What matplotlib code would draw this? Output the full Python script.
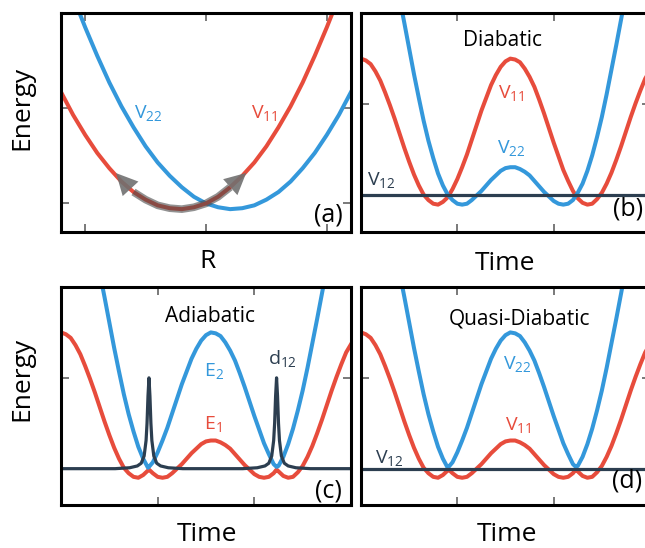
import matplotlib
matplotlib.use("Agg")
import matplotlib.pyplot as plt

plt.rcParams["font.family"] = ["Open Sans", "DejaVu Sans"]
plt.rcParams["mathtext.fontset"] = "custom"
plt.rcParams["mathtext.rm"] = "Open Sans"

RED = "#E74C3C"
BLUE = "#3498DB"
NAVY = "#2C3E50"
W, H = 645, 548

# -----------------------------
# (a) diabatic potentials vs R
# -----------------------------
r_grid = [-1.2, -1.1, -1.0, -0.9, -0.8, -0.7, -0.6, -0.5, -0.4, -0.3, -0.2, -0.1,
          0.0, 0.1, 0.2, 0.3, 0.4, 0.5, 0.6, 0.7, 0.8, 0.9, 1.0, 1.1, 1.2]
v11_r = [1.17, 0.93, 0.72, 0.53, 0.37, 0.23, 0.12, 0.04, -0.02, -0.05, -0.06, -0.04,
         0.00, 0.07, 0.17, 0.29, 0.43, 0.60, 0.80, 1.02, 1.27, 1.55, 1.85, 2.17, 2.52]
v22_r = [2.52, 2.17, 1.85, 1.55, 1.27, 1.02, 0.80, 0.60, 0.43, 0.29, 0.17, 0.07,
         0.00, -0.04, -0.06, -0.05, -0.02, 0.04, 0.12, 0.23, 0.37, 0.53, 0.72, 0.93, 1.17]

# -----------------------------
# (b)-(d) energies along the trajectory
# -----------------------------
t_grid = [0.00, 0.05, 0.10, 0.15, 0.20, 0.25, 0.30, 0.35, 0.40, 0.45, 0.50, 0.55,
          0.60, 0.65, 0.70, 0.75, 0.80, 0.85, 0.90, 0.95, 1.00, 1.05, 1.10, 1.15,
          1.20, 1.25, 1.30, 1.35, 1.40, 1.45, 1.50, 1.55, 1.60, 1.65, 1.70, 1.75,
          1.80, 1.85, 1.90, 1.95, 2.00, 2.05, 2.10, 2.15, 2.20, 2.25, 2.30, 2.35,
          2.40, 2.45, 2.50, 2.55, 2.60, 2.65, 2.70, 2.75, 2.80, 2.85, 2.90, 2.95, 3.00]
v11_t = [1.50, 1.48, 1.44, 1.36, 1.26, 1.13, 0.99, 0.84, 0.68, 0.52, 0.37, 0.23,
         0.11, 0.01, -0.05, -0.09, -0.10, -0.07, -0.02, 0.07, 0.18, 0.31, 0.45, 0.61,
         0.77, 0.93, 1.07, 1.21, 1.32, 1.41, 1.47, 1.50, 1.49, 1.46, 1.39, 1.30,
         1.19, 1.05, 0.90, 0.74, 0.58, 0.43, 0.28, 0.16, 0.05, -0.03, -0.08, -0.10,
         -0.09, -0.04, 0.03, 0.13, 0.25, 0.39, 0.54, 0.70, 0.86, 1.01, 1.15, 1.28, 1.37]
v22_t = [3.46, 3.44, 3.37, 3.25, 3.10, 2.90, 2.68, 2.43, 2.16, 1.89, 1.61, 1.33,
         1.07, 0.82, 0.60, 0.41, 0.24, 0.11, 0.01, -0.05, -0.09, -0.10, -0.09, -0.05,
         0.00, 0.05, 0.11, 0.17, 0.22, 0.27, 0.30, 0.31, 0.31, 0.29, 0.26, 0.22,
         0.16, 0.10, 0.04, -0.01, -0.06, -0.09, -0.10, -0.09, -0.05, 0.03, 0.13, 0.27,
         0.44, 0.64, 0.86, 1.11, 1.38, 1.65, 1.93, 2.21, 2.47, 2.72, 2.94, 3.12, 3.27]
v12_level = 0.0

# adiabatic states (with the two crossing times added)
t_adia = [0.00, 0.05, 0.10, 0.15, 0.20, 0.25, 0.30, 0.35, 0.40, 0.45, 0.50, 0.55,
          0.60, 0.65, 0.70, 0.75, 0.80, 0.85, 0.90, 0.91, 0.95, 1.00, 1.05, 1.10,
          1.15, 1.20, 1.25, 1.30, 1.35, 1.40, 1.45, 1.50, 1.55, 1.60, 1.65, 1.70,
          1.75, 1.80, 1.85, 1.90, 1.95, 2.00, 2.05, 2.10, 2.15, 2.20, 2.23, 2.25,
          2.30, 2.35, 2.40, 2.45, 2.50, 2.55, 2.60, 2.65, 2.70, 2.75, 2.80, 2.85,
          2.90, 2.95, 3.00]
e1 = [1.50, 1.48, 1.44, 1.36, 1.26, 1.13, 0.99, 0.84, 0.68, 0.52, 0.37, 0.23,
      0.11, 0.01, -0.05, -0.09, -0.10, -0.07, -0.02, -0.01, -0.05, -0.09, -0.10, -0.09,
      -0.05, 0.00, 0.05, 0.11, 0.17, 0.22, 0.27, 0.30, 0.31, 0.31, 0.29, 0.26,
      0.22, 0.16, 0.10, 0.04, -0.01, -0.06, -0.09, -0.10, -0.09, -0.05, -0.01, -0.03,
      -0.08, -0.10, -0.09, -0.04, 0.03, 0.13, 0.25, 0.39, 0.54, 0.70, 0.86, 1.01,
      1.15, 1.28, 1.37]
e2 = [3.46, 3.44, 3.37, 3.25, 3.10, 2.90, 2.68, 2.43, 2.16, 1.89, 1.61, 1.33,
      1.07, 0.82, 0.60, 0.41, 0.24, 0.11, 0.01, 0.02, 0.07, 0.18, 0.31, 0.45,
      0.61, 0.77, 0.93, 1.07, 1.21, 1.32, 1.41, 1.47, 1.50, 1.49, 1.46, 1.39,
      1.30, 1.19, 1.05, 0.90, 0.74, 0.58, 0.43, 0.28, 0.16, 0.05, 0.02, 0.03,
      0.13, 0.27, 0.44, 0.64, 0.86, 1.11, 1.38, 1.65, 1.93, 2.21, 2.47, 2.72,
      2.94, 3.12, 3.27]

# nonadiabatic coupling d12
t_d12 = [0.00, 0.56, 0.71, 0.79, 0.83, 0.86, 0.88, 0.89, 0.90, 0.91, 0.92, 0.93,
         0.94, 0.96, 0.99, 1.03, 1.11, 1.26, 1.88, 2.03, 2.11, 2.15, 2.18, 2.20,
         2.21, 2.22, 2.23, 2.24, 2.25, 2.26, 2.28, 2.31, 2.35, 2.43, 2.58, 3.00]
d12 = [0.00, 0.00, 0.01, 0.03, 0.06, 0.14, 0.31, 0.50, 0.80, 1.00, 0.80, 0.50,
       0.31, 0.14, 0.06, 0.03, 0.01, 0.00, 0.00, 0.01, 0.03, 0.06, 0.14, 0.31,
       0.50, 0.80, 1.00, 0.80, 0.50, 0.31, 0.14, 0.06, 0.03, 0.01, 0.00, 0.00]


def px_axes(left, top, right, bottom):
    return fig.add_axes([left / W, 1 - bottom / H, (right - left) / W, (bottom - top) / H])


def style(ax, xticks, yticks):
    for s in ax.spines.values():
        s.set_linewidth(2.2)
        s.set_color("black")
    ax.set_xticks(xticks)
    ax.set_yticks(yticks)
    ax.tick_params(direction="in", length=6, width=1.1, color="#555555",
                   top=True, right=True, labelbottom=False, labelleft=False)


def ftext(x, y, s, **kw):
    fig.text(x / W, 1 - y / H, s, **kw)


fig = plt.figure(figsize=(W / 100, H / 100), dpi=100)
LW = 2.9

# (a)
ax = px_axes(61, 13, 351, 232)
ax.plot(r_grid, v22_r, color=BLUE, lw=LW)
ax.plot(r_grid, v11_r, color=RED, lw=LW)
ax.plot(r_grid[6:15], v11_r[6:15], color="#4a4a4a", lw=5.5, alpha=0.6,
        solid_capstyle="butt")
ax.annotate("", xy=(-0.76, 0.34), xytext=(-0.6, 0.12),
            arrowprops=dict(arrowstyle="-|>,head_length=0.7,head_width=0.35",
                            color="#707070", lw=0, alpha=0.9, mutation_scale=22))
ax.annotate("", xy=(0.35, 0.34), xytext=(0.2, 0.17),
            arrowprops=dict(arrowstyle="-|>,head_length=0.7,head_width=0.35",
                            color="#707070", lw=0, alpha=0.9, mutation_scale=22))
ax.set_xlim(-1.2, 1.2)
ax.set_ylim(-0.3, 2.0)
style(ax, [-1, 0, 1], [0, 1])
ax.text(-0.60, 0.89, r"V$_{\mathregular{22}}$", color=BLUE, fontsize=14, ha="left", va="baseline")
ax.text(0.37, 0.89, r"V$_{\mathregular{11}}$", color=RED, fontsize=14, ha="left", va="baseline")

# (b)
ax = px_axes(361, 13, 650, 232)
ax.plot(t_grid, v11_t, color=RED, lw=LW)
ax.plot(t_grid, v22_t, color=BLUE, lw=LW)
ax.axhline(v12_level, color=NAVY, lw=2.3)
ax.set_xlim(0, 3)
ax.set_ylim(-0.4, 2.0)
style(ax, [1, 2], [0, 1])
ax.text(1.47, 1.64, "Diabatic", fontsize=15, ha="center", va="baseline")
ax.text(1.42, 1.06, r"V$_{\mathregular{11}}$", color=RED, fontsize=14, ha="left", va="baseline")
ax.text(1.41, 0.46, r"V$_{\mathregular{22}}$", color=BLUE, fontsize=14, ha="left", va="baseline")
ax.text(0.06, 0.11, r"V$_{\mathregular{12}}$", color=NAVY, fontsize=14, ha="left", va="baseline")

# (c)
ax = px_axes(61, 287, 351, 505)
ax.plot(t_adia, e1, color=RED, lw=LW)
ax.plot(t_adia, e2, color=BLUE, lw=LW)
ax.plot(t_d12, d12, color=NAVY, lw=2.3)
ax.set_xlim(0, 3)
ax.set_ylim(-0.4, 2.0)
style(ax, [1, 2], [0, 1])
ax.text(1.54, 1.61, "Adiabatic", fontsize=15, ha="center", va="baseline")
ax.text(1.48, 1.01, r"E$_{\mathregular{2}}$", color=BLUE, fontsize=14, ha="left", va="baseline")
ax.text(1.48, 0.43, r"E$_{\mathregular{1}}$", color=RED, fontsize=14, ha="left", va="baseline")
ax.text(2.14, 1.14, r"d$_{\mathregular{12}}$", color=NAVY, fontsize=14, ha="left", va="baseline")

# (d)
ax = px_axes(361, 287, 650, 505)
ax.plot(t_adia, e1, color=RED, lw=LW)
ax.plot(t_adia, e2, color=BLUE, lw=LW)
ax.axhline(v12_level, color=NAVY, lw=2.3)
ax.set_xlim(0, 3)
ax.set_ylim(-0.4, 2.0)
style(ax, [1, 2], [0, 1])
ax.text(1.65, 1.59, "Quasi-Diabatic", fontsize=15, ha="center", va="baseline")
ax.text(1.47, 1.09, r"V$_{\mathregular{22}}$", color=BLUE, fontsize=14, ha="left", va="baseline")
ax.text(1.50, 0.415, r"V$_{\mathregular{11}}$", color=RED, fontsize=14, ha="left", va="baseline")
ax.text(0.145, 0.06, r"V$_{\mathregular{12}}$", color=NAVY, fontsize=14, ha="left", va="baseline")

# axis labels and panel tags
ftext(22, 108, "Energy", fontsize=19, rotation=90, ha="center", va="center")
ftext(22, 379, "Energy", fontsize=19, rotation=90, ha="center", va="center")
ftext(207, 268, "R", fontsize=19, ha="center", va="baseline")
ftext(505, 270, "Time", fontsize=19, ha="center", va="baseline")
ftext(207, 547, "Time", fontsize=19, ha="center", va="bottom")
ftext(507, 547, "Time", fontsize=19, ha="center", va="bottom")
ftext(343, 227, "(a)", fontsize=18, ha="right", va="bottom")
ftext(643, 222, "(b)", fontsize=18, ha="right", va="bottom")
ftext(342, 503, "(c)", fontsize=18, ha="right", va="bottom")
ftext(642, 493, "(d)", fontsize=18, ha="right", va="bottom")

fig.savefig("out.png", dpi=100)
